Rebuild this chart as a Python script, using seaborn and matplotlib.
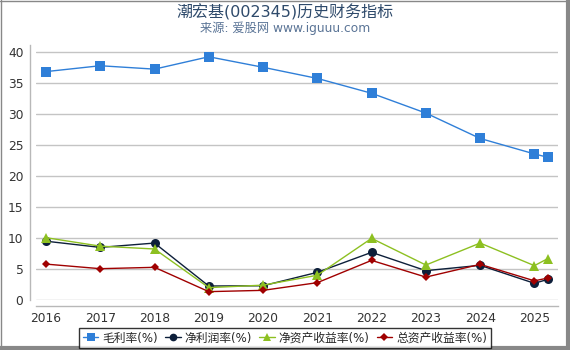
import matplotlib
matplotlib.use("Agg")
import matplotlib.pyplot as plt
import numpy as np
import pandas as pd
import seaborn as sns
from matplotlib.lines import Line2D

# ---- data ----
periods = [2016, 2017, 2018, 2019, 2020, 2021, 2022, 2023, 2024, 2025, 2025.25]
year_ticks = [2016, 2017, 2018, 2019, 2020, 2021, 2022, 2023, 2024, 2025]
gross_margin = [36.9, 37.85, 37.3, 39.3, 37.6, 35.8, 33.4, 30.2, 26.1, 23.6, 23.05]
net_margin = [9.5, 8.5, 9.2, 2.26, 2.3, 4.47, 7.7, 4.74, 5.6, 2.7, 3.34]
roe = [10.07, 8.7, 8.24, 2.0, 2.4, 4.0, 9.96, 5.65, 9.2, 5.55, 6.7]
roa = [5.8, 5.06, 5.28, 1.35, 1.56, 2.8, 6.4, 3.7, 5.76, 3.1, 3.55]

names = ["毛利率(%)", "净利润率(%)", "净资产收益率(%)", "总资产收益率(%)"]
colors = ["#2f7fd8", "#0d1f3a", "#8dc021", "#a00000"]
markers = ["s", "o", "^", "D"]
msizes = [6.5, 6.5, 6.5, 4.5]

df = pd.concat(
    [
        pd.DataFrame({"period": periods, "value": vals, "指标": name})
        for name, vals in zip(names, [gross_margin, net_margin, roe, roa])
    ],
    ignore_index=True,
)

sns.set_style("white")
plt.rcParams["font.family"] = ["DejaVu Sans", "Noto Sans CJK SC"]

fig = plt.figure(figsize=(5.7, 3.5), dpi=100)
ax = fig.add_axes([36 / 570, 50 / 350, 522 / 570, 255 / 350])

for name, col, mk, ms in zip(names, colors, markers, msizes):
    sub = df[df["指标"] == name]
    sns.lineplot(
        data=sub, x="period", y="value", ax=ax, color=col, marker=mk,
        markersize=ms, markeredgewidth=0, linewidth=1, legend=False,
    )

ax.set_xlim(2015.816, 2025.435)
ax.set_ylim(0, 41.2)
ax.set_xticks(year_ticks)
ax.set_xticklabels([str(y) for y in year_ticks])
ax.set_yticks(range(0, 41, 5))
ax.set_xlabel("")
ax.set_ylabel("")
ax.yaxis.grid(True, color="#c4c4c4", linewidth=1)
ax.xaxis.grid(False)
for s in ["top", "right"]:
    ax.spines[s].set_visible(False)
for s in ["left", "bottom"]:
    ax.spines[s].set_color("#b8b8b8")
    ax.spines[s].set_linewidth(1)
    ax.spines[s].set_position(("outward", 4))
ax.tick_params(axis="both", labelsize=8.8, colors="#b8b8b8", labelcolor="#333333",
               length=3, width=1, direction="out", pad=2)

fig.text(0.5, 0.966, "潮宏基(002345)历史财务指标", ha="center", va="center",
         fontsize=11.5, color="#2e4a6b")
fig.text(0.5, 0.918, "来源: 爱股网 www.iguuu.com", ha="center", va="center",
         fontsize=8.8, color="#5a7496")

handles = [
    Line2D([], [], color=c, marker=m, markersize=s * 0.85, markeredgewidth=0, linewidth=1)
    for c, m, s in zip(colors, markers, msizes)
]
leg = fig.legend(handles, names, loc="center", bbox_to_anchor=(0.5, 0.034), ncol=4,
                 fontsize=8.5, frameon=True, fancybox=False, handlelength=1.3,
                 handletextpad=0.35, columnspacing=0.6, borderpad=0.3)
leg.get_frame().set_edgecolor("black")
leg.get_frame().set_linewidth(1)

# image border: thin left/top, heavier right/bottom
fig.add_artist(Line2D([0.5 / 570, 0.5 / 570], [0, 1], color="#888888", linewidth=1,
                      transform=fig.transFigure))
fig.add_artist(Line2D([0, 1], [1 - 0.5 / 350, 1 - 0.5 / 350], color="#888888", linewidth=1,
                      transform=fig.transFigure))
fig.add_artist(Line2D([1 - 2 / 570, 1 - 2 / 570], [0, 1], color="#888888", linewidth=3,
                      transform=fig.transFigure))
fig.add_artist(Line2D([0, 1], [2 / 350, 2 / 350], color="#888888", linewidth=3,
                      transform=fig.transFigure))

fig.savefig("out.png", dpi=100)
